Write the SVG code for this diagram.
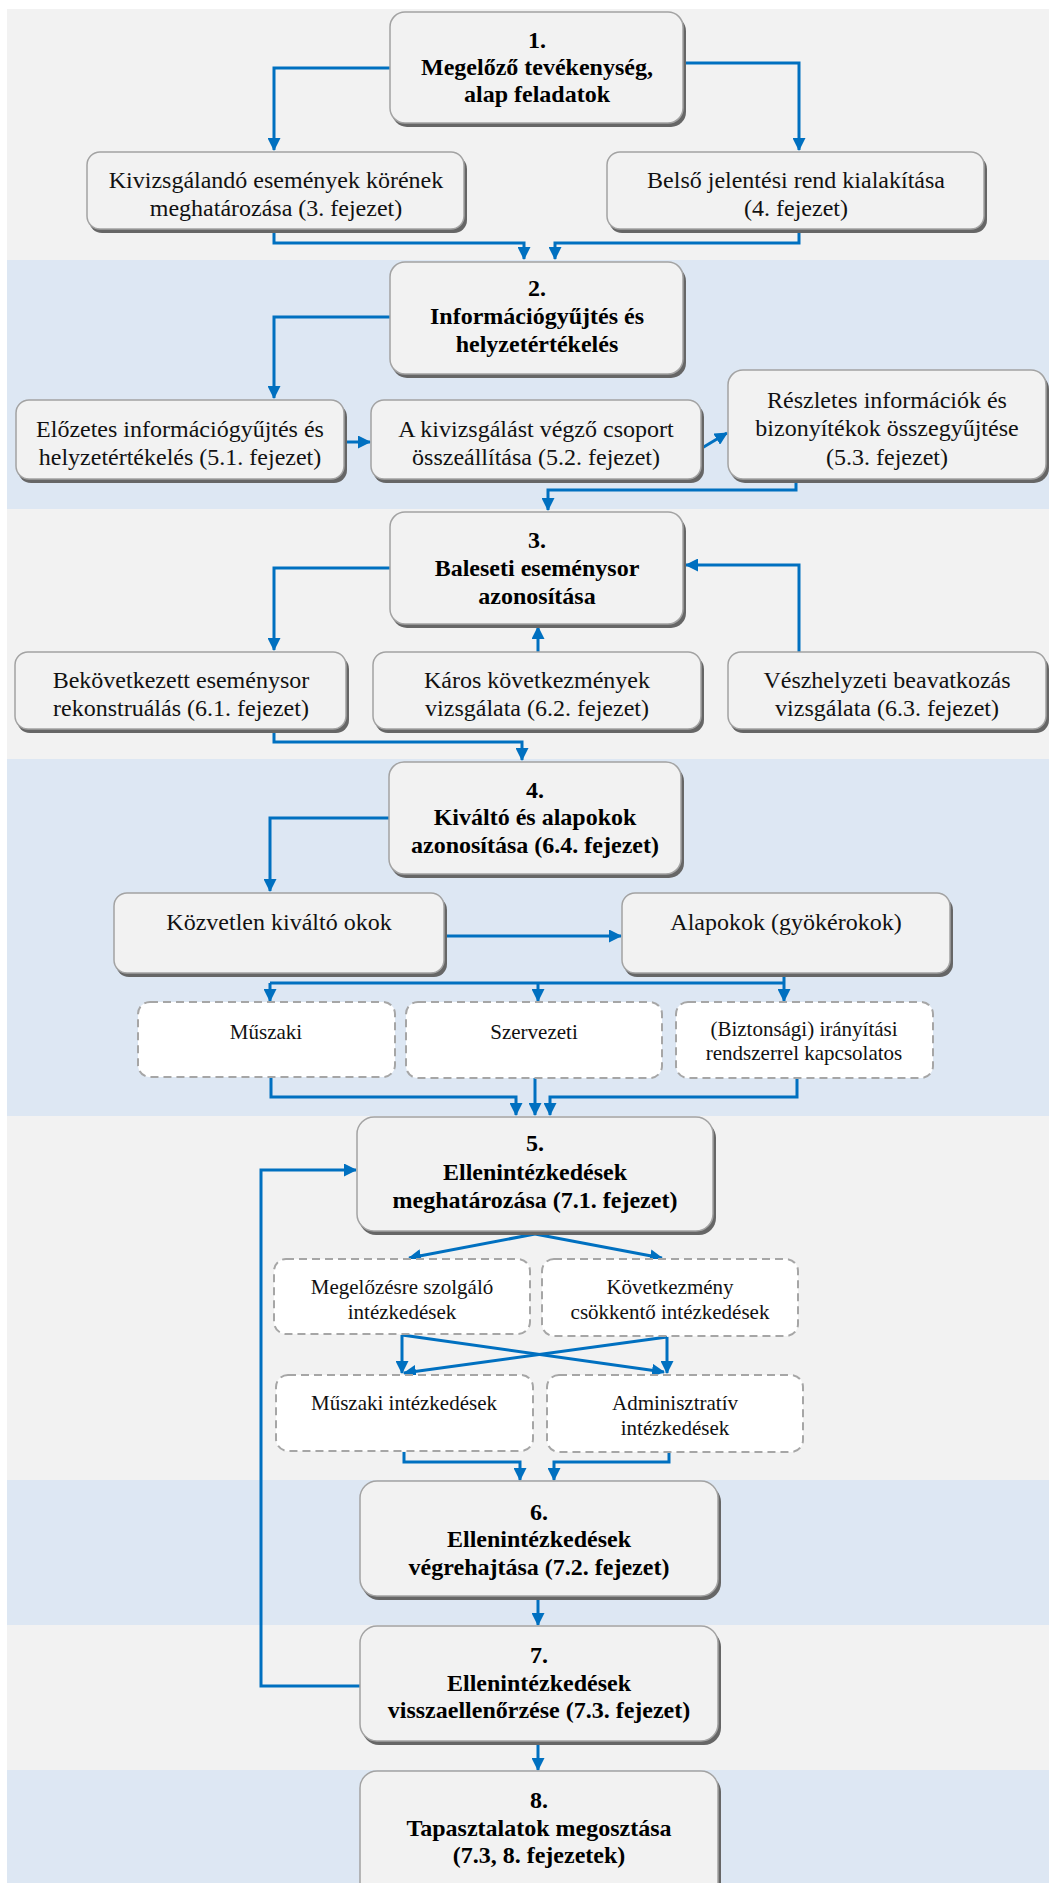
<svg xmlns="http://www.w3.org/2000/svg" width="1049" height="1883" viewBox="0 0 1049 1883">
<style>
.bg{fill:#ffffff}
.bandg{fill:#f2f2f2}
.bandb{fill:#dde7f3}
.shadow{fill:#666666}
.box{fill:#f2f2f2;stroke:#a3a3a3;stroke-width:1.5}
.dbox{fill:#ffffff;stroke:#a6a6a6;stroke-width:2;stroke-dasharray:8 5}
.tb{font-family:"Liberation Serif","Times New Roman",serif;font-size:24px;font-weight:bold;fill:#000;text-anchor:middle}
.tr{font-family:"Liberation Serif","Times New Roman",serif;font-size:24px;fill:#111;text-anchor:middle}
.td{font-family:"Liberation Serif","Times New Roman",serif;font-size:21px;fill:#111;text-anchor:middle}
.c{fill:none;stroke:#0070c0;stroke-width:3}
.ca{fill:none;stroke:#0070c0;stroke-width:3;marker-end:url(#ah)}
</style>
<defs>
<marker id="ah" markerUnits="userSpaceOnUse" markerWidth="13" markerHeight="13" refX="12" refY="6.5" orient="auto" viewBox="0 0 13 13">
<path d="M0,0 L13,6.5 L0,13 z" fill="#0070c0"/>
</marker>
</defs>
<rect class="bg" x="0" y="0" width="1049" height="1883"/>
<rect class="bandg" x="7" y="9" width="1042" height="251"/>
<rect class="bandb" x="7" y="260" width="1042" height="249"/>
<rect class="bandg" x="7" y="509" width="1042" height="250"/>
<rect class="bandb" x="7" y="759" width="1042" height="357"/>
<rect class="bandg" x="7" y="1116" width="1042" height="364"/>
<rect class="bandb" x="7" y="1480" width="1042" height="145"/>
<rect class="bandg" x="7" y="1625" width="1042" height="145"/>
<rect class="bandb" x="7" y="1770" width="1042" height="113"/>

<g id="connectors">
<path class="ca" d="M390,68 H274 V150"/>
<path class="ca" d="M684,63 H799 V150"/>
<path class="ca" d="M274,231 V243 H524 V259"/>
<path class="ca" d="M799,231 V243 H555 V259"/>
<path class="ca" d="M390,317 H274 V398"/>
<path class="ca" d="M345,442 H370"/>
<path class="ca" d="M702,448 L727,433"/>
<path class="ca" d="M796,481 V490 H548 V510"/>
<path class="ca" d="M390,568 H274 V650"/>
<path class="ca" d="M538,652 V627"/>
<path class="ca" d="M799,652 V565 H686"/>
<path class="ca" d="M274,731 V742 H522 V760"/>
<path class="ca" d="M389,818 H270 V891"/>
<path class="ca" d="M445,936 H621"/>
<path class="c" d="M784,976 V983 M270,983 H784"/>
<path class="ca" d="M270,983 V1001"/>
<path class="ca" d="M538,983 V1001"/>
<path class="ca" d="M784,983 V1001"/>
<path class="ca" d="M271,1078 V1097 H516 V1115"/>
<path class="ca" d="M535,1078 V1115"/>
<path class="ca" d="M797,1078 V1097 H550 V1115"/>
<path class="ca" d="M535,1234 L409,1258"/>
<path class="ca" d="M535,1234 L662,1258"/>
<path class="ca" d="M402,1335 V1373"/>
<path class="ca" d="M402,1335 L664,1372"/>
<path class="ca" d="M667,1337 V1373"/>
<path class="ca" d="M667,1337 L404,1373"/>
<path class="ca" d="M404,1452 V1462 H520 V1480"/>
<path class="ca" d="M669,1452 V1462 H554 V1480"/>
<path class="ca" d="M538,1600 V1625"/>
<path class="ca" d="M538,1745 V1770"/>
<path class="ca" d="M360,1686 H261 V1170 H356"/>
</g>

<g id="n1">
<rect class="shadow" x="392" y="16" width="294" height="111" rx="15"/>
<rect class="box" x="390" y="12" width="293" height="111" rx="15"/>
<text class="tb" x="537" y="48">1.</text>
<text class="tb" x="537" y="75">Megelőző tevékenység,</text>
<text class="tb" x="537" y="102">alap feladatok</text>
</g>
<g id="s1a">
<rect class="shadow" x="89" y="156" width="378" height="77" rx="13"/>
<rect class="box" x="87" y="152" width="377" height="77" rx="13"/>
<text class="tr" x="276" y="188">Kivizsgálandó események körének</text>
<text class="tr" x="276" y="216">meghatározása (3. fejezet)</text>
</g>
<g id="s1b">
<rect class="shadow" x="609" y="156" width="378" height="77" rx="13"/>
<rect class="box" x="607" y="152" width="377" height="77" rx="13"/>
<text class="tr" x="796" y="188">Belső jelentési rend kialakítása</text>
<text class="tr" x="796" y="216">(4. fejezet)</text>
</g>

<g id="n2">
<rect class="shadow" x="392" y="266" width="294" height="112" rx="15"/>
<rect class="box" x="390" y="262" width="293" height="112" rx="15"/>
<text class="tb" x="537" y="296">2.</text>
<text class="tb" x="537" y="324">Információgyűjtés és</text>
<text class="tb" x="537" y="352">helyzetértékelés</text>
</g>
<g id="s2a">
<rect class="shadow" x="18" y="404" width="329" height="79" rx="13"/>
<rect class="box" x="16" y="400" width="328" height="79" rx="13"/>
<text class="tr" x="180" y="437">Előzetes információgyűjtés és</text>
<text class="tr" x="180" y="465">helyzetértékelés (5.1. fejezet)</text>
</g>
<g id="s2b">
<rect class="shadow" x="373" y="404" width="331" height="79" rx="13"/>
<rect class="box" x="371" y="400" width="330" height="79" rx="13"/>
<text class="tr" x="536" y="437">A kivizsgálást végző csoport</text>
<text class="tr" x="536" y="465">összeállítása (5.2. fejezet)</text>
</g>
<g id="s2c">
<rect class="shadow" x="730" y="374" width="319" height="109" rx="15"/>
<rect class="box" x="728" y="370" width="318" height="109" rx="15"/>
<text class="tr" x="887" y="408">Részletes információk és</text>
<text class="tr" x="887" y="436">bizonyítékok összegyűjtése</text>
<text class="tr" x="887" y="465">(5.3. fejezet)</text>
</g>

<g id="n3">
<rect class="shadow" x="392" y="516" width="294" height="112" rx="15"/>
<rect class="box" x="390" y="512" width="293" height="112" rx="15"/>
<text class="tb" x="537" y="548">3.</text>
<text class="tb" x="537" y="576">Baleseti eseménysor</text>
<text class="tb" x="537" y="604">azonosítása</text>
</g>
<g id="s3a">
<rect class="shadow" x="17" y="656" width="332" height="77" rx="13"/>
<rect class="box" x="15" y="652" width="331" height="77" rx="13"/>
<text class="tr" x="181" y="688">Bekövetkezett eseménysor</text>
<text class="tr" x="181" y="716">rekonstruálás (6.1. fejezet)</text>
</g>
<g id="s3b">
<rect class="shadow" x="375" y="656" width="329" height="77" rx="13"/>
<rect class="box" x="373" y="652" width="328" height="77" rx="13"/>
<text class="tr" x="537" y="688">Káros következmények</text>
<text class="tr" x="537" y="716">vizsgálata (6.2. fejezet)</text>
</g>
<g id="s3c">
<rect class="shadow" x="730" y="656" width="319" height="77" rx="13"/>
<rect class="box" x="728" y="652" width="318" height="77" rx="13"/>
<text class="tr" x="887" y="688">Vészhelyzeti beavatkozás</text>
<text class="tr" x="887" y="716">vizsgálata (6.3. fejezet)</text>
</g>

<g id="n4">
<rect class="shadow" x="391" y="766" width="293" height="112" rx="15"/>
<rect class="box" x="389" y="762" width="292" height="112" rx="15"/>
<text class="tb" x="535" y="798">4.</text>
<text class="tb" x="535" y="825">Kiváltó és alapokok</text>
<text class="tb" x="535" y="853">azonosítása (6.4. fejezet)</text>
</g>
<g id="s4a">
<rect class="shadow" x="116" y="897" width="331" height="80" rx="13"/>
<rect class="box" x="114" y="893" width="330" height="80" rx="13"/>
<text class="tr" x="279" y="930">Közvetlen kiváltó okok</text>
</g>
<g id="s4b">
<rect class="shadow" x="624" y="897" width="329" height="80" rx="13"/>
<rect class="box" x="622" y="893" width="328" height="80" rx="13"/>
<text class="tr" x="786" y="930">Alapokok (gyökérokok)</text>
</g>
<g id="d1">
<rect class="dbox" x="138" y="1002" width="257" height="75" rx="12"/>
<text class="td" x="266" y="1039">Műszaki</text>
</g>
<g id="d2">
<rect class="dbox" x="406" y="1002" width="256" height="76" rx="12"/>
<text class="td" x="534" y="1039">Szervezeti</text>
</g>
<g id="d3">
<rect class="dbox" x="676" y="1002" width="257" height="76" rx="12"/>
<text class="td" x="804" y="1036">(Biztonsági) irányítási</text>
<text class="td" x="804" y="1060">rendszerrel kapcsolatos</text>
</g>

<g id="n5">
<rect class="shadow" x="359" y="1121" width="357" height="114" rx="17"/>
<rect class="box" x="357" y="1117" width="356" height="114" rx="17"/>
<text class="tb" x="535" y="1151">5.</text>
<text class="tb" x="535" y="1180">Ellenintézkedések</text>
<text class="tb" x="535" y="1208">meghatározása (7.1. fejezet)</text>
</g>
<g id="d5a">
<rect class="dbox" x="274" y="1259" width="256" height="75" rx="12"/>
<text class="td" x="402" y="1294">Megelőzésre szolgáló</text>
<text class="td" x="402" y="1319">intézkedések</text>
</g>
<g id="d5b">
<rect class="dbox" x="542" y="1259" width="256" height="77" rx="12"/>
<text class="td" x="670" y="1294">Következmény</text>
<text class="td" x="670" y="1319">csökkentő intézkedések</text>
</g>
<g id="d5c">
<rect class="dbox" x="276" y="1375" width="257" height="76" rx="12"/>
<text class="td" x="404" y="1410">Műszaki intézkedések</text>
</g>
<g id="d5d">
<rect class="dbox" x="547" y="1375" width="256" height="77" rx="12"/>
<text class="td" x="675" y="1410">Adminisztratív</text>
<text class="td" x="675" y="1435">intézkedések</text>
</g>

<g id="n6">
<rect class="shadow" x="362" y="1485" width="359" height="115" rx="17"/>
<rect class="box" x="360" y="1481" width="358" height="115" rx="17"/>
<text class="tb" x="539" y="1520">6.</text>
<text class="tb" x="539" y="1547">Ellenintézkedések</text>
<text class="tb" x="539" y="1575">végrehajtása (7.2. fejezet)</text>
</g>
<g id="n7">
<rect class="shadow" x="362" y="1630" width="359" height="115" rx="17"/>
<rect class="box" x="360" y="1626" width="358" height="115" rx="17"/>
<text class="tb" x="539" y="1663">7.</text>
<text class="tb" x="539" y="1691">Ellenintézkedések</text>
<text class="tb" x="539" y="1718">visszaellenőrzése (7.3. fejezet)</text>
</g>
<g id="n8">
<rect class="shadow" x="362" y="1775" width="359" height="130" rx="17"/>
<rect class="box" x="360" y="1771" width="358" height="130" rx="17"/>
<text class="tb" x="539" y="1808">8.</text>
<text class="tb" x="539" y="1836">Tapasztalatok megosztása</text>
<text class="tb" x="539" y="1863">(7.3, 8. fejezetek)</text>
</g>
</svg>
